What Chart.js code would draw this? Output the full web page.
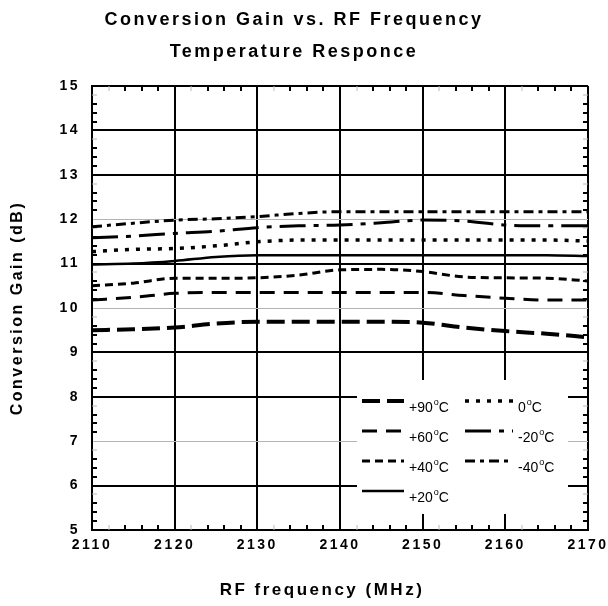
<!DOCTYPE html>
<html>
<head>
<meta charset="utf-8">
<script src="https://cdn.jsdelivr.net/npm/chart.js@4.4.1/dist/chart.umd.min.js"></script>
<style>
  html, body { margin: 0; padding: 0; background: #fff; }
  #wrap { width: 608px; height: 606px; }
</style>
</head>
<body>
<div id="wrap"><canvas id="gain-chart" width="608" height="606"></canvas></div>
<script>
// RF frequency (MHz)
const freqs = [2110, 2115, 2120, 2125, 2130, 2135, 2140, 2145, 2150, 2155, 2160, 2165, 2170];

// conversion gain (dB) per temperature
const gainM40 = [11.83, 11.91, 11.98, 12.01, 12.06, 12.13, 12.17, 12.17, 12.17, 12.17, 12.17, 12.17, 12.17];
const gainM20 = [11.58, 11.62, 11.68, 11.73, 11.81, 11.85, 11.87, 11.92, 11.98, 11.96, 11.87, 11.85, 11.85];
const gain0   = [11.27, 11.32, 11.34, 11.40, 11.49, 11.53, 11.53, 11.53, 11.53, 11.53, 11.53, 11.53, 11.51];
const gainP20 = [10.98, 11.00, 11.06, 11.15, 11.19, 11.19, 11.19, 11.19, 11.19, 11.19, 11.19, 11.19, 11.17];
const gainP40 = [10.50, 10.56, 10.67, 10.67, 10.68, 10.74, 10.86, 10.87, 10.82, 10.70, 10.68, 10.67, 10.61];
const gainP60 = [10.18, 10.24, 10.33, 10.35, 10.35, 10.35, 10.35, 10.35, 10.35, 10.28, 10.22, 10.18, 10.18];
const gainP90 = [9.50, 9.52, 9.56, 9.65, 9.69, 9.69, 9.69, 9.69, 9.67, 9.56, 9.48, 9.42, 9.34];

const tempLabels = ['+90', '+60', '+40', '+20', '0', '-20', '-40'];
const xTicks = [2110, 2120, 2130, 2140, 2150, 2160, 2170];
const yTicks = [5, 6, 7, 8, 9, 10, 11, 12, 13, 14, 15];
const xTitle = 'RF frequency (MHz)';

const FONT = "'Liberation Sans', Arial, sans-serif";
const CTX = document.getElementById('gain-chart');

function pts(arr) {
  return arr.map((v, i) => ({ x: freqs[i], y: v }));
}

function series(label, arr, width, dash) {
  return {
    label: label,
    data: pts(arr),
    borderColor: '#000',
    backgroundColor: '#000',
    borderWidth: width,
    borderDash: dash,
    pointRadius: 0,
    cubicInterpolationMode: 'monotone',
    fill: false
  };
}

const datasets = [
  series(tempLabels[0], gainP90, 4, [18, 7]),
  series(tempLabels[1], gainP60, 3, [15, 9]),
  series(tempLabels[2], gainP40, 3, [8, 5]),
  series(tempLabels[3], gainP20, 2.5, []),
  series(tempLabels[4], gain0, 3.5, [4, 7]),
  series(tempLabels[5], gainM20, 3, [26, 8, 5, 8]),
  series(tempLabels[6], gainM40, 3, [10, 5, 4, 5])
];

// letter spacing for the bold labels
const spacing = {
  id: 'spacing',
  beforeDraw(chart) { chart.ctx.letterSpacing = '2.5px'; }
};

// x axis title, a bit left of the plot centre like the original
const xAxisTitle = {
  id: 'xAxisTitle',
  afterDraw(chart) {
    const ctx = chart.ctx;
    ctx.save();
    ctx.letterSpacing = '2.5px';
    ctx.font = 'bold 17px ' + FONT;
    ctx.fillStyle = '#000';
    ctx.textAlign = 'center';
    ctx.textBaseline = 'middle';
    ctx.fillText(xTitle, chart.chartArea.left + 230, 590);
    ctx.restore();
  }
};

// small inward minor ticks on all four sides
const minorTicks = {
  id: 'minorTicks',
  beforeDatasetsDraw(chart) {
    const {ctx, chartArea: a, scales: {x, y}} = chart;
    ctx.save();
    for (let v = 5.2; v < 15; v += 0.2) {
      const r = Math.round(v * 10) / 10;
      if (Math.abs(r - Math.round(r)) < 0.01) continue;
      const py = Math.round(y.getPixelForValue(r));
      const grey = Math.abs((r % 1) - 0.8) < 0.01;
      ctx.strokeStyle = grey ? '#b8b8b8' : '#000';
      ctx.lineWidth = grey ? 1 : 2;
      ctx.beginPath();
      ctx.moveTo(a.left, py); ctx.lineTo(a.left + 5, py);
      ctx.moveTo(a.right - 5, py); ctx.lineTo(a.right, py);
      ctx.stroke();
    }
    for (let v = 2112; v < 2170; v += 2) {
      if (v % 10 === 0) continue;
      const px = Math.round(x.getPixelForValue(v));
      const grey = v % 10 === 2;
      ctx.strokeStyle = grey ? '#b8b8b8' : '#000';
      ctx.lineWidth = grey ? 1 : 2;
      ctx.beginPath();
      ctx.moveTo(px, a.bottom); ctx.lineTo(px, a.bottom - 5);
      ctx.moveTo(px, a.top); ctx.lineTo(px, a.top + 5);
      ctx.stroke();
    }
    ctx.restore();
  }
};

// legend inside the plot, bottom right, on a white box
const boxLegend = {
  id: 'boxLegend',
  afterDatasetsDraw(chart) {
    const {ctx, chartArea: a} = chart;
    const bx = a.right - 231, by = a.bottom - 150;
    ctx.save();
    ctx.letterSpacing = '0px';
    ctx.fillStyle = '#fff';
    ctx.fillRect(bx, by, 211, 134);
    const order = [0, 4, 1, 5, 2, 6, 3];
    order.forEach((di, k) => {
      const ds = chart.data.datasets[di];
      const col = k % 2, row = Math.floor(k / 2);
      const ly = by + 21 + row * 30;
      const x0 = col === 0 ? bx + 5 : bx + 108;
      const x1 = col === 0 ? bx + 47 : bx + 156;
      ctx.strokeStyle = '#000';
      ctx.lineWidth = ds.borderWidth;
      ctx.setLineDash(ds.borderDash);
      ctx.beginPath();
      ctx.moveTo(x0, ly); ctx.lineTo(x1, ly);
      ctx.stroke();
      ctx.setLineDash([]);
      ctx.fillStyle = '#000';
      ctx.textBaseline = 'alphabetic';
      ctx.textAlign = 'left';
      let tx = x1 + 5;
      const base = ly + 11;
      ctx.font = '14px ' + FONT;
      ctx.fillText(ds.label, tx, base);
      tx += ctx.measureText(ds.label).width + 1;
      ctx.font = '9px ' + FONT;
      ctx.fillText('o', tx, base - 7);
      tx += ctx.measureText('o').width;
      ctx.font = '14px ' + FONT;
      ctx.fillText('C', tx, base);
    });
    ctx.restore();
  }
};

new Chart(CTX, {
  type: 'line',
  data: { datasets: datasets },
  plugins: [spacing, minorTicks, boxLegend, xAxisTitle],
  options: {
    responsive: false,
    animation: false,
    devicePixelRatio: 1,
    layout: { padding: { left: 0, right: 20, top: 0, bottom: 0 } },
    plugins: {
      legend: { display: false },
      tooltip: { enabled: false },
      title: {
        display: true,
        text: ['Conversion Gain vs. RF Frequency', 'Temperature Responce'],
        color: '#000',
        font: { family: FONT, size: 18, weight: 'bold', lineHeight: '32px' },
        padding: { top: 4, bottom: 18 }
      }
    },
    scales: {
      x: {
        type: 'linear',
        min: 2110,
        max: 2170,
        afterFit(scale) {
          scale.height = 76;
          scale.paddingLeft = 0;
          scale.paddingRight = 0;
        },
        afterBuildTicks(scale) { scale.ticks = xTicks.map(v => ({ value: v })); },
        ticks: {
          color: '#000',
          padding: 7,
          maxRotation: 0,
          font: { family: FONT, size: 14, weight: 'bold' },
          callback: v => String(v)
        },
        grid: { color: '#000', lineWidth: 2, drawTicks: false },
        border: { color: '#000', width: 2 }
      },
      y: {
        min: 5,
        max: 15,
        afterFit(scale) { scale.width = 92; },
        afterBuildTicks(scale) { scale.ticks = yTicks.map(v => ({ value: v })); },
        ticks: {
          color: '#000',
          padding: 12,
          font: { family: FONT, size: 14, weight: 'bold' },
          callback: v => String(v)
        },
        grid: {
          drawTicks: false,
          color: c => [7, 10, 12].includes(c.tick.value) ? '#b4b4b4' : '#000',
          lineWidth: c => [7, 10, 12].includes(c.tick.value) ? 1 : 2
        },
        border: { color: '#000', width: 2 },
        title: {
          display: true,
          text: 'Conversion Gain (dB)',
          color: '#000',
          font: { family: FONT, size: 16, weight: 'bold', lineHeight: '20px' },
          padding: { top: 8, bottom: 0 }
        }
      }
    }
  }
});
</script>
</body>
</html>
